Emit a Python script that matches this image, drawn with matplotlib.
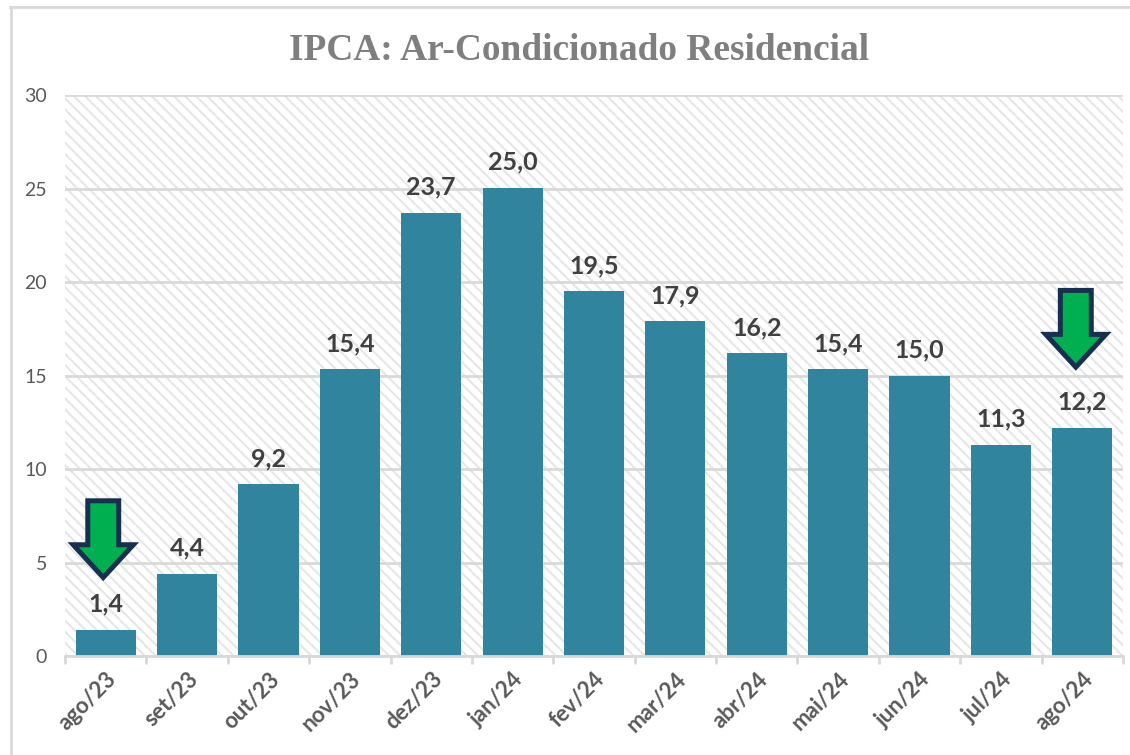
import matplotlib
matplotlib.use("Agg")
import matplotlib.pyplot as plt
from matplotlib.lines import Line2D
from matplotlib.patches import Polygon, Rectangle

meses = ["ago/23", "set/23", "out/23", "nov/23", "dez/23", "jan/24", "fev/24",
         "mar/24", "abr/24", "mai/24", "jun/24", "jul/24", "ago/24"]
valores = [1.4, 4.4, 9.2, 15.35, 23.7, 25.04, 19.5, 17.9, 16.2, 15.35, 15.0, 11.3, 12.2]
rotulos = ["1,4", "4,4", "9,2", "15,4", "23,7", "25,0", "19,5",
           "17,9", "16,2", "15,4", "15,0", "11,3", "12,2"]
y_ticks = [0, 5, 10, 15, 20, 25, 30]

# setas: posicao em x e valor onde fica a ponta
setas = [(-0.03, 4.2), (11.92, 15.45)]

W, H = 1130, 755
plt.rcParams["font.family"] = ["Lato", "DejaVu Sans"]
plt.rcParams["hatch.linewidth"] = 1.5
plt.rcParams["hatch.color"] = "#e6e6e6"

fig = plt.figure(figsize=(W / 100, H / 100), dpi=100)
ax = fig.add_axes([65 / W, 1 - 656 / H, (1123 - 65) / W, (656 - 95) / H])

# moldura (so esquerda e topo aparecem)
fig.add_artist(Line2D([10.5 / W, 10.5 / W], [0, 1 - 7 / H], color="#d9d9d9", lw=2))
fig.add_artist(Line2D([10 / W, 1], [1 - 7 / H, 1 - 7 / H], color="#d9d9d9", lw=2))

ax.set_xlim(-0.5, 12.5)
ax.set_ylim(0, 30)

# fundo hachurado
ax.add_patch(Rectangle((0, 0), 1, 1, transform=ax.transAxes, facecolor="white",
                       edgecolor="#e6e6e6", hatch="\\\\\\", lw=0, zorder=0))

ax.yaxis.grid(True, color="#d9d9d9", lw=2, zorder=1)
ax.set_axisbelow(True)
ax.bar(range(len(valores)), valores, width=0.74, color="#31849E", zorder=2)

for i, v in enumerate(valores):
    ax.annotate(rotulos[i], (i, v), xytext=(0, 14), textcoords="offset pixels",
                ha="center", va="bottom", fontsize=18, fontweight="bold",
                color="#404040", zorder=4)

# setas verdes
for x, ponta in setas:
    forma = [(x - 0.19, ponta + 4.1), (x + 0.19, ponta + 4.1), (x + 0.19, ponta + 1.75),
             (x + 0.37, ponta + 1.75), (x, ponta), (x - 0.37, ponta + 1.75), (x - 0.19, ponta + 1.75)]
    ax.add_patch(Polygon(forma, closed=True, facecolor="#00B050", edgecolor="#17304F",
                         lw=3.6, joinstyle="miter", zorder=5))

for lado in ["top", "right", "left"]:
    ax.spines[lado].set_visible(False)
ax.spines["bottom"].set_color("#d9d9d9")
ax.spines["bottom"].set_linewidth(2)

ax.set_yticks(y_ticks)
ax.tick_params(axis="y", length=0, labelsize=14, labelcolor="#595959", pad=13)

ax.set_xticks([i - 0.5 for i in range(len(meses) + 1)], minor=False)
ax.set_xticklabels([])
ax.tick_params(axis="x", length=6, width=2, color="#d9d9d9")
ax.set_xticks(range(len(meses)), labels=meses, minor=True)
ax.tick_params(axis="x", which="minor", length=0, pad=9, labelsize=16, labelcolor="#595959")
for lb in ax.get_xticklabels(minor=True):
    lb.set_rotation(45)
    lb.set_rotation_mode("anchor")
    lb.set_ha("right")
    lb.set_va("top")
    lb.set_fontweight("bold")

fig.text(579 / W, 1 - 50 / H, "IPCA: Ar-Condicionado Residencial", ha="center", va="center",
         fontsize=26.9, fontweight="bold", color="#7f7f7f", family="Liberation Serif")

fig.savefig("out.png", dpi=100)
